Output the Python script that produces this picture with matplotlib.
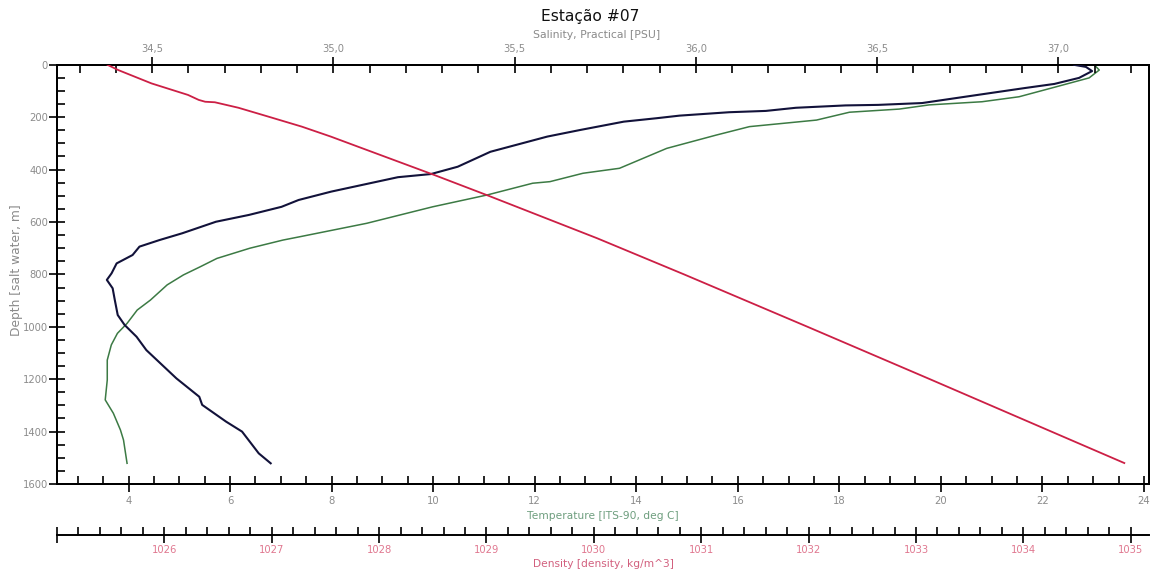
import matplotlib
matplotlib.use("Agg")
import matplotlib.pyplot as plt
from matplotlib.ticker import MultipleLocator, FixedLocator, FixedFormatter

plt.rcParams['font.family'] = ['DejaVu Sans']

# ---------------- data ----------------
sal_depth = [0, 8, 24, 50, 73, 89, 115, 146, 153, 155, 164, 176, 181, 194, 204, 217,
             249, 274, 332, 389, 417, 429, 484, 516, 542, 573, 599, 643, 669, 694,
             726, 758, 796, 821, 853, 898, 955, 993, 1038, 1089, 1197, 1267, 1298,
             1362, 1400, 1483, 1521]
sal_value = [37.043, 37.076, 37.093, 37.057, 36.989, 36.906, 36.777, 36.624, 36.503,
             36.413, 36.276, 36.193, 36.092, 35.955, 35.891, 35.801, 35.680, 35.590,
             35.433, 35.343, 35.269, 35.178, 34.994, 34.904, 34.857, 34.767, 34.676,
             34.583, 34.520, 34.465, 34.446, 34.402, 34.388, 34.375, 34.391, 34.397,
             34.405, 34.424, 34.457, 34.484, 34.567, 34.630, 34.638, 34.704, 34.748,
             34.794, 34.827]

temp_depth = [0, 20, 50, 84, 122, 141, 153, 169, 181, 211, 236, 268, 319, 395, 414,
              446, 452, 497, 542, 605, 656, 669, 700, 739, 771, 802, 840, 898, 936,
              987, 1025, 1069, 1127, 1203, 1279, 1330, 1394, 1432, 1521]
temp_value = [23.02, 23.12, 22.92, 22.27, 21.54, 20.81, 19.77, 19.18, 18.20, 17.55,
              16.23, 15.58, 14.60, 13.67, 12.95, 12.30, 11.96, 11.06, 9.99, 8.69,
              7.38, 7.04, 6.39, 5.74, 5.41, 5.08, 4.76, 4.43, 4.17, 3.97, 3.78, 3.66,
              3.58, 3.58, 3.54, 3.70, 3.84, 3.90, 3.97]

dens_depth = [0, 20, 71, 115, 134, 141, 143, 164, 198, 236, 274, 306, 420, 500, 662,
              800, 1000, 1200, 1520]
dens_value = [1025.47, 1025.57, 1025.88, 1026.22, 1026.32, 1026.38, 1026.47, 1026.69,
              1026.97, 1027.28, 1027.55, 1027.76, 1028.51, 1029.02, 1030.03, 1030.84,
              1031.99, 1033.13, 1034.94]

temp_ticks = [4, 6, 8, 10, 12, 14, 16, 18, 20, 22, 24]
sal_ticks = [34.5, 35.0, 35.5, 36.0, 36.5, 37.0]
sal_labels = ['34,5', '35,0', '35,5', '36,0', '36,5', '37,0']
dens_ticks = [1025, 1026, 1027, 1028, 1029, 1030, 1031, 1032, 1033, 1034, 1035]
dens_labels = [''] + [str(v) for v in dens_ticks[1:]]
depth_ticks = [0, 200, 400, 600, 800, 1000, 1200, 1400, 1600]

# ---------------- figure ----------------
W, H = 1151, 572
fig = plt.figure(figsize=(W / 100, H / 100), dpi=100)
left, right, top, bottom = 57, 1149, 64.8, 484
ax = fig.add_axes([left / W, 1 - bottom / H, (right - left) / W, (bottom - top) / H])

GRAY = '#8c8c8c'
LW_SP = 1.4
TS = 7.2

def style_ticks(a, which_axis, color):
    a.tick_params(axis=which_axis, which='major', direction='inout', length=12,
                  width=1.2, labelsize=TS, labelcolor=color, color='black', pad=2)
    a.tick_params(axis=which_axis, which='minor', direction='in', length=6,
                  width=1.2, color='black')

# main axes: temperature (bottom) vs depth
ax.set_xlim(2.59, 24.1)
ax.set_ylim(1600, 0)
ax.xaxis.set_major_locator(FixedLocator(temp_ticks))
ax.xaxis.set_minor_locator(MultipleLocator(0.5))
ax.yaxis.set_major_locator(FixedLocator(depth_ticks))
ax.yaxis.set_minor_locator(MultipleLocator(50))
style_ticks(ax, 'x', GRAY)
style_ticks(ax, 'y', GRAY)
ax.tick_params(axis='x', which='major', pad=2.5)
ax.tick_params(axis='y', which='major', pad=0.5)
for s in ax.spines.values():
    s.set_linewidth(LW_SP)
ax.xaxis.set_ticks_position('bottom')
ax.yaxis.set_ticks_position('left')

ax.plot(temp_value, temp_depth, color='#3c7a44', lw=1.1, zorder=3)

# salinity (top)
ax2 = ax.twiny()
ax2.set_xlim(34.2375, 37.25)
ax2.xaxis.set_major_locator(FixedLocator(sal_ticks))
ax2.xaxis.set_major_formatter(FixedFormatter(sal_labels))
ax2.xaxis.set_minor_locator(MultipleLocator(0.1))
style_ticks(ax2, 'x', GRAY)
ax2.tick_params(axis='x', which='major', pad=2)
for s in ax2.spines.values():
    s.set_linewidth(LW_SP)
ax2.plot(sal_value, sal_depth, color='#12123a', lw=1.5, zorder=4)

# density (separate axis below)
ax3 = ax.twiny()
ax3.set_xlim(1025.0, 1035.17)
ax3.xaxis.set_ticks_position('bottom')
ax3.xaxis.set_label_position('bottom')
ax3.spines['bottom'].set_position(('outward', 36.5))
for k in ['top', 'left', 'right']:
    ax3.spines[k].set_visible(False)
ax3.spines['bottom'].set_linewidth(LW_SP)
ax3.xaxis.set_major_locator(FixedLocator(dens_ticks))
ax3.xaxis.set_major_formatter(FixedFormatter(dens_labels))
ax3.xaxis.set_minor_locator(MultipleLocator(0.2))
style_ticks(ax3, 'x', '#e07890')
ax3.tick_params(axis='x', which='major', pad=1.5)
ax3.plot(dens_value, dens_depth, color='#cc1f45', lw=1.3, zorder=2)
ax3.set_ylim(1600, 0)

# ---------------- texts ----------------
fig.text(590 / W, 1 - 16 / H, 'Estação #07', ha='center', va='center', fontsize=11.2,
         color='#111111')
fig.text(597 / W, 1 - 35 / H, 'Salinity, Practical [PSU]', ha='center', va='center',
         fontsize=7.8, color='#8a8a8a')
fig.text(603 / W, 1 - 516 / H, 'Temperature [ITS-90, deg C]', ha='center', va='center',
         fontsize=7.7, color='#6e9e7e')
fig.text(603 / W, 1 - 564 / H, 'Density [density, kg/m^3]', ha='center', va='center',
         fontsize=7.7, color='#d2607e')
fig.text(17 / W, 1 - 270 / H, 'Depth [salt water, m]', ha='center', va='center',
         rotation=90, fontsize=8.8, color='#8a8a8a')

fig.savefig('out.png', dpi=100)
